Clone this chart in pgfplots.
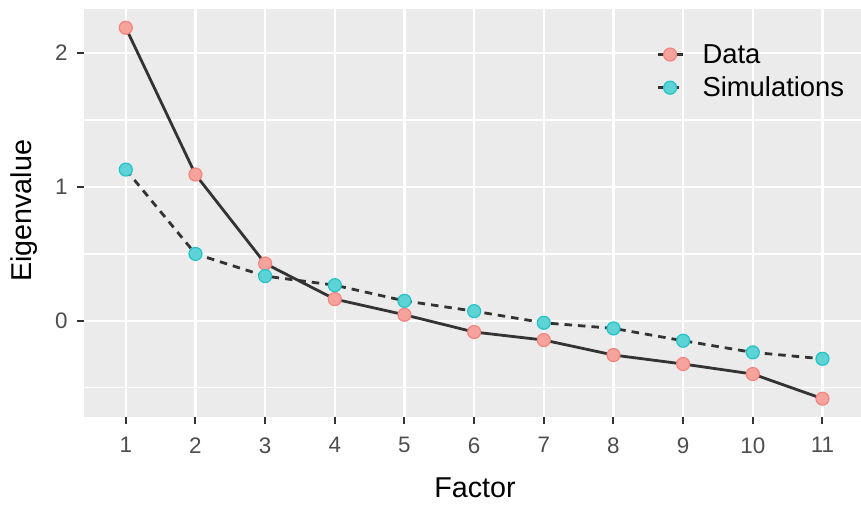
\documentclass[border=0pt]{standalone}
\usepackage{pgfplots}
\pgfplotsset{compat=1.18}
\usepackage{fontspec}
\setmainfont{Liberation Sans}
\definecolor{panel}{HTML}{EBEBEB}
\definecolor{gtwenty}{HTML}{333333}
\definecolor{gthirty}{HTML}{4D4D4D}
\definecolor{pinkfill}{HTML}{F6A39D}
\definecolor{pinkdraw}{HTML}{F4857E}
\definecolor{cyanfill}{HTML}{5ED3D5}
\definecolor{cyandraw}{HTML}{22C4C8}
\begin{document}
\begin{tikzpicture}
\begin{axis}[
  at={(0,0)}, anchor=south west,
  scale only axis, width=777bp, height=408bp,
  xmin=0.4, xmax=11.553, ymin=-0.719, ymax=2.33,
  axis background/.style={fill=panel},
  axis line style={draw=none},
  xtick={1,...,11}, ytick={0,1,2}, minor ytick={-0.5,0.5,1.5},
  xtick pos=bottom, ytick pos=left,
  grid=both,
  major grid style={white, line width=2.4bp},
  minor grid style={white, line width=1.3bp},
  tick align=outside, major tick length=7bp, minor tick length=0pt,
  tick style={gtwenty, line width=2bp},
  ticklabel style={font=\fontsize{22.5}{22.5}\selectfont, text=gthirty},
  xticklabel style={yshift=-10bp},
  yticklabel style={xshift=-6bp},
  /pgf/number format/assume math mode=true,
  xlabel={Factor}, ylabel={Eigenvalue},
  label style={font=\fontsize{28.8}{28.8}\selectfont},
  xlabel style={at={(axis description cs:0.5032,0)}, anchor=base, yshift=-80bp},
  ylabel style={at={(axis description cs:-0.0673,0.505)}, anchor=base},
  legend style={at={(axis description cs:0.7362,0.9138)}, anchor=north west,
    draw=none, fill=none, inner sep=0pt, row sep=12.3bp,
    nodes={inner sep=0pt}, font=\fontsize{27.5}{27.5}\selectfont},
  legend cell align=left,
  legend image code/.code={
    \draw[mark repeat=2, mark phase=2, #1] plot coordinates {(0bp,0bp) (12.5bp,0bp) (25bp,0bp)};
    \path (43.5bp,0bp);
  },
]
\addplot[gtwenty, line width=2.8bp, mark=*, mark size=6.5bp,
  mark options={solid, fill=pinkfill, draw=pinkdraw, line width=1.2bp}]
  coordinates {(1,2.19) (2,1.093) (3,0.428) (4,0.162) (5,0.045) (6,-0.084)
    (7,-0.144) (8,-0.256) (9,-0.323) (10,-0.398) (11,-0.582)};
\addlegendentry{Data}
\addplot[gtwenty, line width=2.8bp, dash pattern=on 7.5bp off 6bp, mark=*, mark size=6.5bp,
  mark options={solid, fill=cyanfill, draw=cyandraw, line width=1.2bp}]
  coordinates {(1,1.13) (2,0.5) (3,0.334) (4,0.266) (5,0.149) (6,0.072)
    (7,-0.015) (8,-0.057) (9,-0.149) (10,-0.236) (11,-0.284)};
\addlegendentry{Simulations}
\end{axis}
\pgfresetboundingbox
\useasboundingbox (-84bp,-88bp) rectangle (777bp,417bp);
\end{tikzpicture}
\end{document}
